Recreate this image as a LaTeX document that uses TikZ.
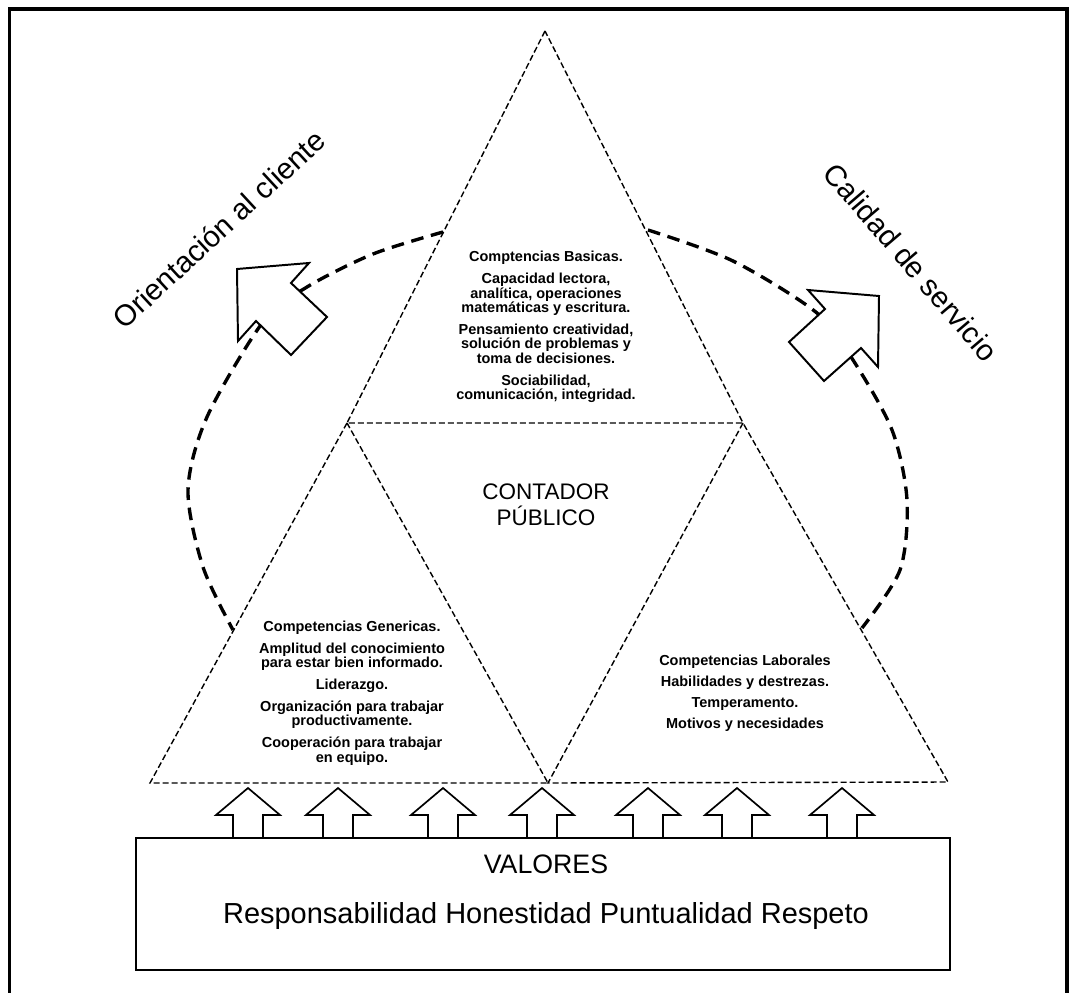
\documentclass[tikz,border=0pt]{standalone}
\usepackage{fontspec}
\setmainfont{Liberation Sans}

\begin{document}
\begin{tikzpicture}[x=0.025cm,y=-0.025cm,
	tri/.style={line width=1pt,dash pattern=on 4.3pt off 2.1pt},
	cycleline/.style={line width=2.4pt,dash pattern=on 9pt off 5.5pt},
	bigarrow/.style={line width=1.4pt,fill=white,line join=miter},
	smallarrow/.style={line width=1.2pt,fill=white},
	smalltext/.style={align=center,font=\bfseries\fontsize{10.3}{10.3}\selectfont},
	bigtext/.style={font=\fontsize{21}{24}\selectfont}]
	\useasboundingbox (0,0) rectangle (1070,992);

	% -- Frame
	\draw[line width=2.8pt] (9.5,1000) -- (9.5,9) -- (1067,9) -- (1067,1000);

	% -- Vertices
	\coordinate (apex) at (545,31);
	\coordinate (midL) at (347,423);
	\coordinate (midR) at (743,423);
	\coordinate (baseL) at (150,783);
	\coordinate (baseM) at (548,783);
	\coordinate (baseR) at (948,782);

	% -- Triangles
	\draw[tri] (apex) -- (midL) -- (midR) -- cycle;
	\draw[tri] (midL) -- (baseL) -- (baseM) -- cycle;
	\draw[tri] (midR) -- (baseM) -- (baseR) -- cycle;

	% -- Dashed cycle
	\coordinate (cycL1) at (443,232);
	\coordinate (cycL2) at (233,630);
	\coordinate (cycR1) at (648,230);
	\coordinate (cycR2) at (862,628);
	\draw[cycleline] plot[smooth] coordinates {(cycL1) (373,254) (307,287) (263,322) (207,417) (188,490) (203,567) (cycL2)};
	\draw[cycleline] plot[smooth] coordinates {(cycR1) (733,261) (817,313) (853,360) (892,430) (907,500) (900,570) (cycR2)};

	% -- Big arrows
	\draw[bigarrow] (237,269) -- (309,263) -- (291,283) -- (327,317) -- (291,355) -- (256,321) -- (238,341) -- cycle;
	\draw[bigarrow] (879,296) -- (808,290) -- (825,309) -- (789,342) -- (824,381) -- (861,348) -- (878,367) -- cycle;

	% -- Labels
	\node[bigtext,rotate=42.7] (orientacion) at (219,229) {Orientación al cliente};
	\node[bigtext,rotate=-49.5] (calidad) at (911,262) {Calidad de servicio};

	% -- Texts in triangles
	\node[smalltext] (basicas) at (546,327) {Comptencias Basicas.\\[5.3pt]
		Capacidad lectora,\\ analítica, operaciones\\ matemáticas y escritura.\\[5.3pt]
		Pensamiento creatividad,\\ solución de problemas y\\ toma de decisiones.\\[5.3pt]
		Sociabilidad,\\ comunicación, integridad.};
	\node[smalltext] (genericas) at (352,693) {Competencias Genericas.\\[5.3pt]
		Amplitud del conocimiento\\ para estar bien informado.\\[5.3pt]
		Liderazgo.\\[5.3pt]
		Organización para trabajar\\ productivamente.\\[5.3pt]
		Cooperación para trabajar\\ en equipo.};
	\node[smalltext] (laborales) at (745,693) {Competencias Laborales\\[4.6pt]
		Habilidades y destrezas.\\[4.6pt]
		Temperamento.\\[4.6pt]
		Motivos y necesidades};
	\node[align=center,font=\fontsize{16}{18.5}\selectfont] (contador) at (546,505) {CONTADOR\\ PÚBLICO};

	% -- Small arrows
	\foreach \x in {248,338,443,542,648,737,842}
		\draw[smallarrow] (\x+15,838) -- (\x+15,815) -- (\x+32,815) -- (\x,788) -- (\x-32,815) -- (\x-15,815) -- (\x-15,838);

	% -- Values box
	\draw[line width=1.4pt] (136,838) rectangle (950,970);
	\node[font=\fontsize{19}{22}\selectfont] (valores) at (546,864) {VALORES};
	\node[font=\fontsize{20.6}{24}\selectfont] (listavalores) at (546,916) {Responsabilidad Honestidad Puntualidad Respeto};
\end{tikzpicture}
\end{document}
